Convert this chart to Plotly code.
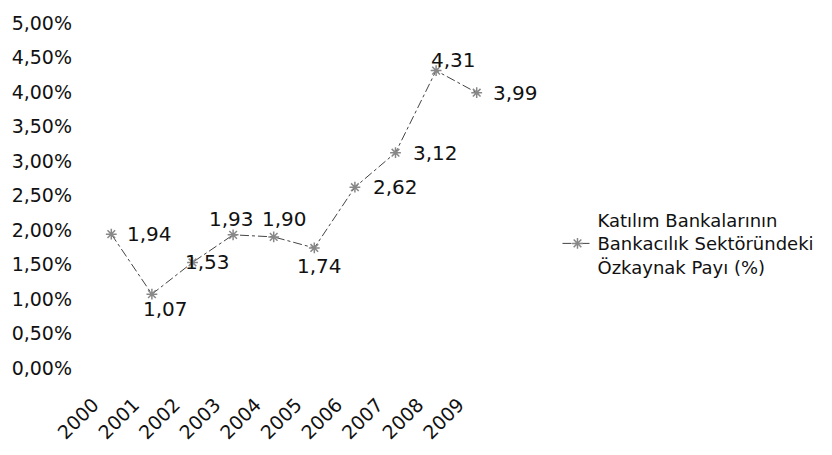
import plotly.graph_objects as go

years = ["2000", "2001", "2002", "2003", "2004", "2005", "2006", "2007", "2008", "2009"]
share = [1.94, 1.07, 1.53, 1.93, 1.90, 1.74, 2.62, 3.12, 4.31, 3.99]
series_name = "Katılım Bankalarının<br>Bankacılık Sektöründeki<br>Özkaynak Payı (%)"

y_ticks = [0, 0.5, 1, 1.5, 2, 2.5, 3, 3.5, 4, 4.5, 5]
y_text = [f"{v:.2f}%".replace(".", ",") for v in y_ticks]

# pixel offsets of each value label from its marker (right / below / above)
label_dx = [38, 14, 15, -2, 11, 5, 41, 40, 17, 39]
label_dy = [0, -15, 0, 16, 18, -18, 0, 0, 11, 0]

font_family = "DejaVu Sans, sans-serif"

fig = go.Figure()
fig.add_trace(go.Scatter(
    x=years, y=share, name=series_name,
    mode="lines+markers",
    line=dict(color="#444444", width=1, dash="dashdot"),
    marker=dict(symbol="asterisk-open", size=9, color="#888888",
                line=dict(color="#888888", width=1.5)),
    cliponaxis=False,
))

# value labels, placed by category index on the category axis
for i, (v, dx, dy) in enumerate(zip(share, label_dx, label_dy)):
    fig.add_annotation(
        x=i, y=v, xref="x", yref="y", text=f"{v:.2f}".replace(".", ","),
        showarrow=False, xanchor="center", yanchor="middle", xshift=dx, yshift=dy,
        font=dict(size=20, color="#111111", family=font_family),
    )

fig.update_layout(
    width=832, height=455,
    margin=dict(l=90, r=334, t=17, b=87),
    paper_bgcolor="white", plot_bgcolor="white",
    font=dict(family=font_family, size=19, color="#111111"),
    showlegend=True,
    legend=dict(x=1.149, y=0.36, xanchor="left", yanchor="middle",
                font=dict(size=18), bgcolor="rgba(0,0,0,0)"),
    xaxis=dict(type="category", range=[-0.5, 9.5], showgrid=False, showline=False,
               zeroline=False, ticks="", tickangle=-45, tickfont=dict(size=19),
               ticklabelstandoff=21, ticklabelshift=-18, automargin=False),
    yaxis=dict(range=[0, 5], tickvals=y_ticks, ticktext=y_text, showgrid=False,
               showline=False, zeroline=False, ticks="", tickfont=dict(size=19),
               ticklabelstandoff=18),
)

fig.write_html("out.html")
